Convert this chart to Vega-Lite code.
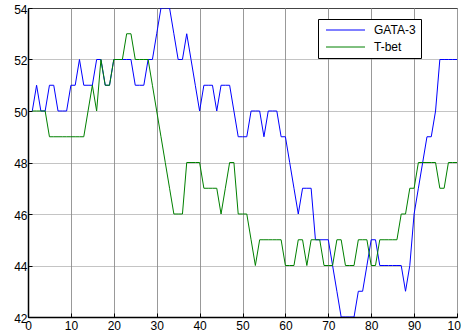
{
  "$schema": "https://vega.github.io/schema/vega-lite/v6.json",
  "width": 429,
  "height": 309,
  "autosize": {"type": "none"},
  "padding": {"left": 28, "top": 8, "right": 4, "bottom": 18},
  "background": "white",
  "config": {
    "view": {"stroke": "black", "strokeWidth": 1},
    "axis": {
      "labelFont": "Liberation Sans",
      "labelFontSize": 12,
      "labelColor": "black",
      "domainColor": "black",
      "domainWidth": 1.5,
      "tickColor": "black",
      "tickSize": -4,
      "title": null,
      "labelFlush": false,
      "labelOverlap": false,
      "labelBound": false
    }
  },
  "data": {
    "values": [
      {"t":1,"GATA-3":50,"T-bet":50},{"t":2,"GATA-3":51,"T-bet":50},{"t":3,"GATA-3":50,"T-bet":50},{"t":4,"GATA-3":50,"T-bet":50},{"t":5,"GATA-3":51,"T-bet":49},
      {"t":6,"GATA-3":51,"T-bet":49},{"t":7,"GATA-3":50,"T-bet":49},{"t":8,"GATA-3":50,"T-bet":49},{"t":9,"GATA-3":50,"T-bet":49},{"t":10,"GATA-3":51,"T-bet":49},
      {"t":11,"GATA-3":51,"T-bet":49},{"t":12,"GATA-3":52,"T-bet":49},{"t":13,"GATA-3":51,"T-bet":49},{"t":14,"GATA-3":51,"T-bet":50},{"t":15,"GATA-3":51,"T-bet":51},
      {"t":16,"GATA-3":52,"T-bet":50},{"t":17,"GATA-3":52,"T-bet":52},{"t":18,"GATA-3":51,"T-bet":51},{"t":19,"GATA-3":51,"T-bet":51},{"t":20,"GATA-3":52,"T-bet":52},
      {"t":21,"GATA-3":52,"T-bet":52},{"t":22,"GATA-3":52,"T-bet":52},{"t":23,"GATA-3":52,"T-bet":53},{"t":24,"GATA-3":52,"T-bet":53},{"t":25,"GATA-3":51,"T-bet":52},
      {"t":26,"GATA-3":51,"T-bet":52},{"t":27,"GATA-3":51,"T-bet":52},{"t":28,"GATA-3":52,"T-bet":52},{"t":29,"GATA-3":52,"T-bet":51},{"t":30,"GATA-3":53,"T-bet":50},
      {"t":31,"GATA-3":54,"T-bet":49},{"t":32,"GATA-3":54,"T-bet":48},{"t":33,"GATA-3":54,"T-bet":47},{"t":34,"GATA-3":53,"T-bet":46},{"t":35,"GATA-3":52,"T-bet":46},
      {"t":36,"GATA-3":52,"T-bet":46},{"t":37,"GATA-3":53,"T-bet":48},{"t":38,"GATA-3":52,"T-bet":48},{"t":39,"GATA-3":51,"T-bet":48},{"t":40,"GATA-3":50,"T-bet":48},
      {"t":41,"GATA-3":51,"T-bet":47},{"t":42,"GATA-3":51,"T-bet":47},{"t":43,"GATA-3":51,"T-bet":47},{"t":44,"GATA-3":50,"T-bet":47},{"t":45,"GATA-3":51,"T-bet":46},
      {"t":46,"GATA-3":51,"T-bet":47},{"t":47,"GATA-3":51,"T-bet":48},{"t":48,"GATA-3":50,"T-bet":48},{"t":49,"GATA-3":49,"T-bet":46},{"t":50,"GATA-3":49,"T-bet":46},
      {"t":51,"GATA-3":49,"T-bet":46},{"t":52,"GATA-3":50,"T-bet":45},{"t":53,"GATA-3":50,"T-bet":44},{"t":54,"GATA-3":50,"T-bet":45},{"t":55,"GATA-3":49,"T-bet":45},
      {"t":56,"GATA-3":50,"T-bet":45},{"t":57,"GATA-3":50,"T-bet":45},{"t":58,"GATA-3":50,"T-bet":45},{"t":59,"GATA-3":49,"T-bet":45},{"t":60,"GATA-3":49,"T-bet":44},
      {"t":61,"GATA-3":48,"T-bet":44},{"t":62,"GATA-3":47,"T-bet":44},{"t":63,"GATA-3":46,"T-bet":45},{"t":64,"GATA-3":47,"T-bet":45},{"t":65,"GATA-3":47,"T-bet":44},
      {"t":66,"GATA-3":47,"T-bet":45},{"t":67,"GATA-3":45,"T-bet":45},{"t":68,"GATA-3":45,"T-bet":45},{"t":69,"GATA-3":45,"T-bet":44},{"t":70,"GATA-3":45,"T-bet":44},
      {"t":71,"GATA-3":44,"T-bet":44},{"t":72,"GATA-3":43,"T-bet":45},{"t":73,"GATA-3":42,"T-bet":45},{"t":74,"GATA-3":42,"T-bet":44},{"t":75,"GATA-3":42,"T-bet":44},
      {"t":76,"GATA-3":42,"T-bet":44},{"t":77,"GATA-3":43,"T-bet":45},{"t":78,"GATA-3":43,"T-bet":45},{"t":79,"GATA-3":44,"T-bet":45},{"t":80,"GATA-3":45,"T-bet":44},
      {"t":81,"GATA-3":45,"T-bet":44},{"t":82,"GATA-3":44,"T-bet":45},{"t":83,"GATA-3":44,"T-bet":45},{"t":84,"GATA-3":44,"T-bet":45},{"t":85,"GATA-3":44,"T-bet":45},
      {"t":86,"GATA-3":44,"T-bet":45},{"t":87,"GATA-3":44,"T-bet":46},{"t":88,"GATA-3":43,"T-bet":46},{"t":89,"GATA-3":44,"T-bet":47},{"t":90,"GATA-3":46,"T-bet":47},
      {"t":91,"GATA-3":47,"T-bet":48},{"t":92,"GATA-3":48,"T-bet":48},{"t":93,"GATA-3":49,"T-bet":48},{"t":94,"GATA-3":49,"T-bet":48},{"t":95,"GATA-3":50,"T-bet":48},
      {"t":96,"GATA-3":52,"T-bet":47},{"t":97,"GATA-3":52,"T-bet":47},{"t":98,"GATA-3":52,"T-bet":48},{"t":99,"GATA-3":52,"T-bet":48},{"t":100,"GATA-3":52,"T-bet":48}
    ]
  },
  "transform": [{"fold": ["GATA-3", "T-bet"], "as": ["series", "value"]}],
  "mark": {"type": "line", "strokeWidth": 1, "clip": true},
  "encoding": {
    "x": {
      "field": "t",
      "type": "quantitative",
      "scale": {"domain": [0, 100], "nice": false},
      "axis": {
        "values": [0, 10, 20, 30, 40, 50, 60, 70, 80, 90, 100],
        "labelPadding": 7,
        "grid": true,
        "gridColor": "#999999",
        "gridWidth": 1
      }
    },
    "y": {
      "field": "value",
      "type": "quantitative",
      "scale": {"domain": [42, 54], "nice": false, "zero": false},
      "axis": {
        "values": [42, 44, 46, 48, 50, 52, 54],
        "labelPadding": 5,
        "labelOffset": 1,
        "grid": true,
        "gridColor": "#888888",
        "gridDash": [1, 1],
        "gridWidth": 1
      }
    },
    "color": {
      "field": "series",
      "type": "nominal",
      "scale": {"domain": ["GATA-3", "T-bet"], "range": ["#0000ff", "#008000"]},
      "legend": {
        "orient": "none",
        "legendX": 290,
        "legendY": 11,
        "title": null,
        "symbolType": "M-1.09,0H6",
        "symbolSize": 121,
        "symbolOffset": 3,
        "symbolStrokeWidth": 1,
        "labelFont": "Liberation Sans",
        "labelFontSize": 12,
        "labelColor": "black",
        "labelOffset": 36,
        "rowPadding": 5,
        "padding": 5,
        "strokeColor": "black",
        "fillColor": "white",
        "cornerRadius": 0
      }
    }
  }
}
